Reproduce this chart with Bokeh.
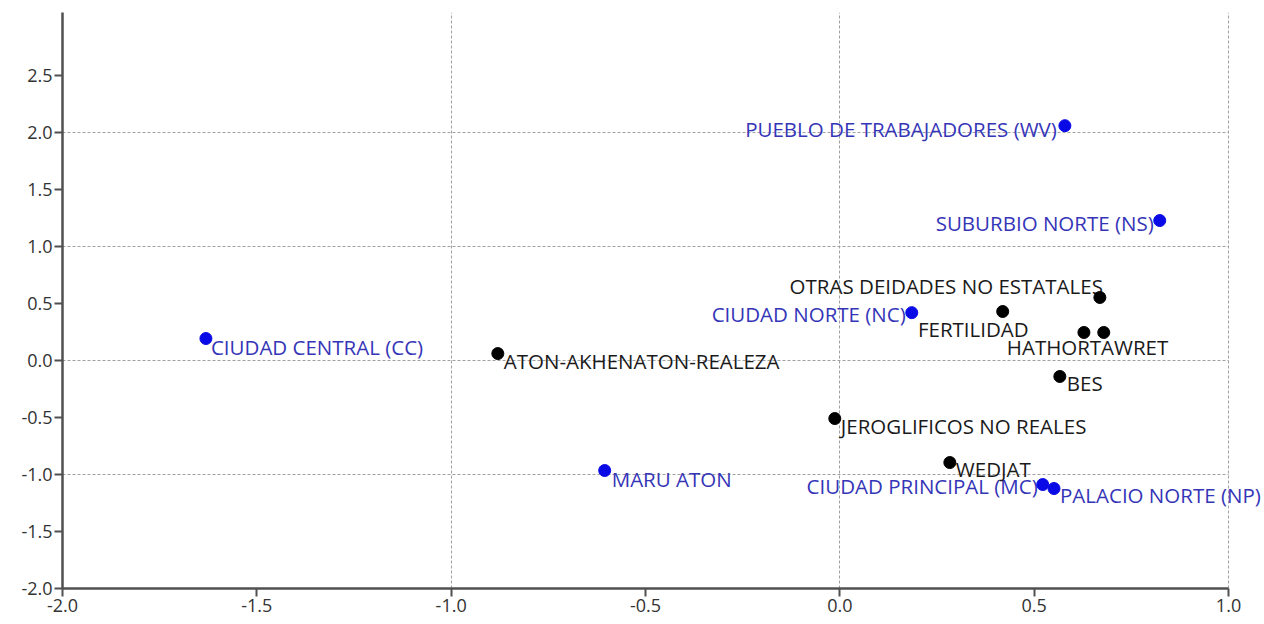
from bokeh.plotting import figure
from bokeh.models import ColumnDataSource, FixedTicker, Range1d, CustomJSTickFormatter
from bokeh.embed import file_html
from bokeh.resources import INLINE
from bokeh.core.properties import value

# --- data ---
site_names = ["CIUDAD CENTRAL (CC)", "PUEBLO DE TRABAJADORES (WV)", "SUBURBIO NORTE (NS)",
              "CIUDAD NORTE (NC)", "MARU ATON", "CIUDAD PRINCIPAL (MC)", "PALACIO NORTE (NP)"]
site_x = [-1.631, 0.579, 0.823, 0.185, -0.605, 0.522, 0.551]
site_y = [0.193, 2.06, 1.228, 0.42, -0.965, -1.088, -1.123]

cat_names = ["ATON-AKHENATON-REALEZA", "OTRAS DEIDADES NO ESTATALES", "FERTILIDAD", "HATHOR",
             "TAWRET", "BES", "JEROGLIFICOS NO REALES", "WEDJAT"]
cat_x = [-0.880, 0.669, 0.419, 0.628, 0.679, 0.566, -0.013, 0.283]
cat_y = [0.061, 0.553, 0.43, 0.246, 0.246, -0.14, -0.509, -0.895]

x_ticks = [-2.0, -1.5, -1.0, -0.5, 0.0, 0.5, 1.0]
y_ticks = [-2.0, -1.5, -1.0, -0.5, 0.0, 0.5, 1.0, 1.5, 2.0, 2.5]
x_grid = [-1.0, 0.0, 1.0]
y_grid = [-1.0, 0.0, 1.0, 2.0]

# --- label placement (styles, screen px) ---
site_dx = [5, -8, -6, -6, 7, -5, 6]
site_dy = [8, 3, 2, 1, 8, 1, 6]
site_align = ["left", "right", "right", "right", "left", "right", "left"]
cat_dx = [6, 3, 26, 6, -14, 7, 6, 6]
cat_dy = [7, -11, 17, 15, 15, 7, 7, 6]
cat_align = ["left", "right", "right", "right", "left", "left", "left", "left"]

FONT = "Open Sans"
LABEL_SIZE = "20.5px"
TICK_SIZE = "18px"
X_EXTRA = 0.09   # room right of the axis end for the outermost label

p = figure(frame_width=1201, frame_height=576, output_backend="svg", toolbar_location=None,
           x_range=Range1d(x_ticks[0], x_ticks[-1] + X_EXTRA), y_range=Range1d(-2.0, 3.053),
           min_border_left=62, min_border_right=0, min_border_top=12, min_border_bottom=36)
p.outline_line_color = None
p.background_fill_color = "white"

for ax in (p.xaxis[0], p.yaxis[0]):
    ax.axis_line_color = "#505050"
    ax.axis_line_width = 2.5
    ax.major_tick_line_color = "#505050"
    ax.major_tick_line_width = 2
    ax.major_tick_out = 8
    ax.major_tick_in = 0
    ax.minor_tick_line_color = None
    ax.major_label_text_font = FONT
    ax.major_label_text_font_size = TICK_SIZE
    ax.major_label_text_color = "#333333"
    ax.major_label_standoff = 2
    ax.formatter = CustomJSTickFormatter(code="return tick.toFixed(1);")

p.xaxis[0].ticker = FixedTicker(ticks=x_ticks)
p.xaxis[0].bounds = (x_ticks[0], x_ticks[-1])
p.yaxis[0].ticker = FixedTicker(ticks=y_ticks)

p.xgrid[0].ticker = FixedTicker(ticks=x_grid)
p.xgrid[0].grid_line_color = "#a0a0a0"
p.xgrid[0].grid_line_dash = "3 2"
p.xgrid[0].grid_line_width = 1
p.ygrid[0].visible = False

# horizontal grid lines, limited to the axis extent
p.segment(x0=[x_ticks[0]] * len(y_grid), x1=[x_ticks[-1]] * len(y_grid), y0=y_grid, y1=y_grid,
          line_color="#a0a0a0", line_dash="3 2", line_width=1, level="underlay")

sites = ColumnDataSource(dict(x=site_x, y=site_y, name=site_names, dx=site_dx, dy=site_dy, al=site_align))
cats = ColumnDataSource(dict(x=cat_x, y=cat_y, name=cat_names, dx=cat_dx, dy=cat_dy, al=cat_align))

p.text(x="x", y="y", text="name", source=sites, x_offset="dx", y_offset="dy", text_align="al",
       text_baseline="middle", text_font=value(FONT), text_font_size=LABEL_SIZE, text_color="#3535b8")
p.text(x="x", y="y", text="name", source=cats, x_offset="dx", y_offset="dy", text_align="al",
       text_baseline="middle", text_font=value(FONT), text_font_size=LABEL_SIZE, text_color="#1a1a1a")

p.scatter(x="x", y="y", source=sites, size=12, color="#0a0ae6")
p.scatter(x="x", y="y", source=cats, size=12, color="#000000")

open("out.html", "w").write(file_html(p, INLINE))
